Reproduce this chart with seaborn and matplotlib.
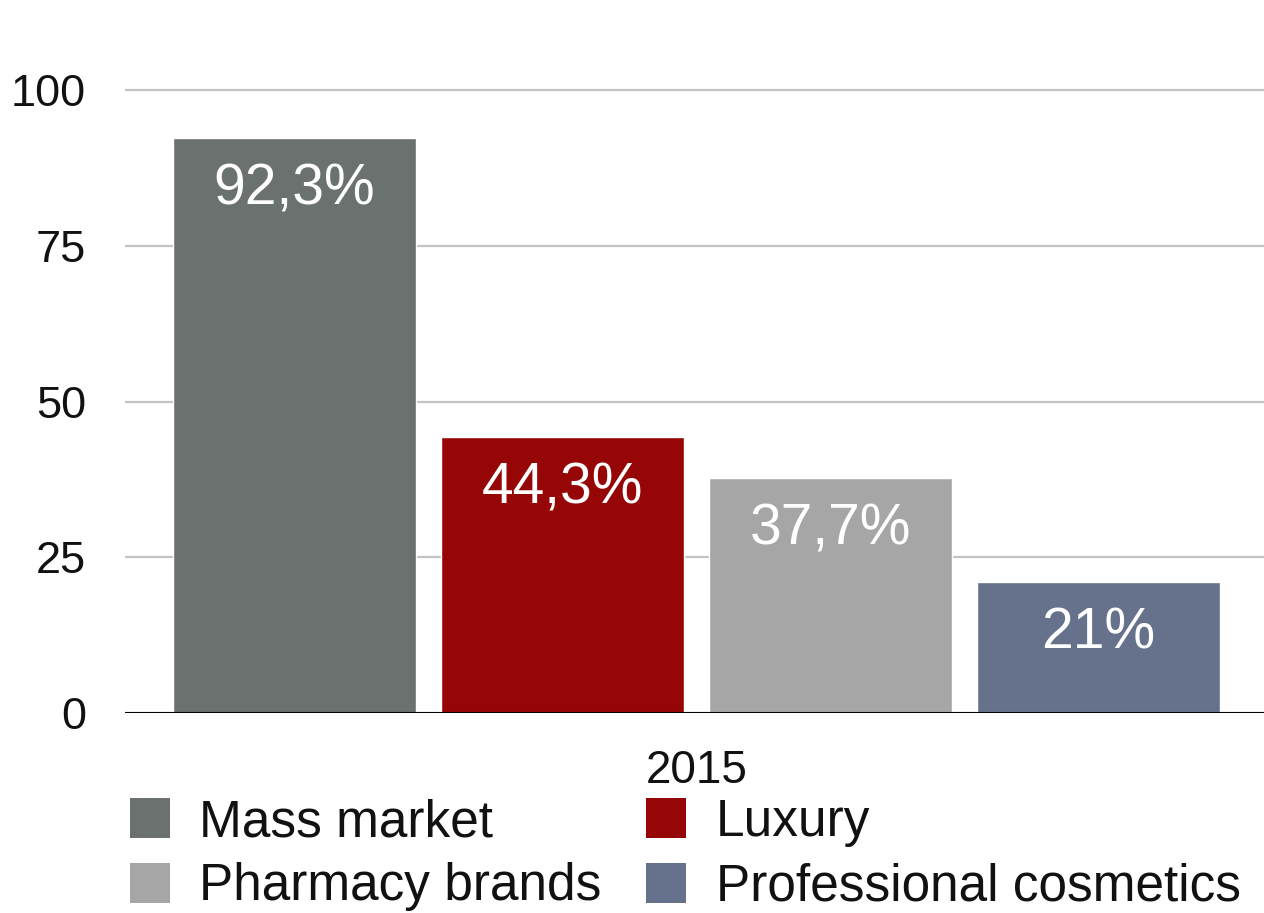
import pandas as pd
import matplotlib.pyplot as plt
import seaborn as sns
from matplotlib.patches import Patch


YEARS = ["2015", "2015", "2015", "2015"]
SEGMENTS = ["Mass market", "Luxury", "Pharmacy brands", "Professional cosmetics"]
SHARES = [92.3, 44.3, 37.7, 21.0]
SHARE_LABELS = ["92,3%", "44,3%", "37,7%", "21%"]
Y_TICKS = [0, 25, 50, 75, 100]

SEGMENT_PALETTE = {
    "Mass market": "#6b716f",
    "Luxury": "#970606",
    "Pharmacy brands": "#a6a6a6",
    "Professional cosmetics": "#66728b",
}

W, H = 1264, 913


if __name__ == "__main__":
    df = pd.DataFrame({"year": YEARS, "segment": SEGMENTS, "share": SHARES})

    sns.set_style("white")
    plt.rcParams["font.family"] = ["Liberation Sans", "DejaVu Sans"]
    plt.rcParams["text.color"] = "#111111"
    plt.rcParams["xtick.color"] = "#111111"
    plt.rcParams["ytick.color"] = "#111111"

    fig = plt.figure(figsize=(W / 100, H / 100), dpi=100)
    # y=0 at 713px, y=100 at 90px -> 6.23 px per unit, top at 101
    ax = fig.add_axes([125 / W, 1 - 713 / H, (W - 125) / W, (713 - 83.8) / H])

    sns.barplot(
        data=df,
        x="year",
        y="share",
        hue="segment",
        hue_order=SEGMENTS,
        palette=SEGMENT_PALETTE,
        width=0.8,
        gap=0.09,
        saturation=1,
        legend=False,
        ax=ax,
    )

    ax.set_xlim(-0.4265, 0.4235)
    ax.set_ylim(0, 101)
    ax.set_yticks(Y_TICKS)
    ax.set_xlabel("")
    ax.set_ylabel("")
    for spine in ax.spines.values():
        spine.set_visible(False)

    ax.yaxis.grid(True, color="#c4c4c4", linewidth=1.6)
    ax.set_axisbelow(True)
    ax.axhline(0, color="black", linewidth=2.2, zorder=3)

    ax.tick_params(axis="y", length=0, pad=28, labelsize=32.5)
    ax.tick_params(axis="x", length=0, pad=26, labelsize=33)

    for container, label in zip(ax.containers, SHARE_LABELS):
        bar = container.patches[0]
        ax.annotate(
            label,
            xy=(bar.get_x() + bar.get_width() / 2, bar.get_height()),
            xytext=(0, -37),
            textcoords="offset points",
            ha="center",
            va="center",
            color="white",
            fontsize=41,
        )

    # legend fills column-wise, so order for rows: Mass/Luxury, Pharmacy/Professional
    legend_order = ["Mass market", "Pharmacy brands", "Luxury", "Professional cosmetics"]
    handles = [Patch(facecolor=SEGMENT_PALETTE[s], edgecolor="none") for s in legend_order]
    fig.legend(
        handles,
        legend_order,
        ncol=2,
        loc="upper left",
        bbox_to_anchor=(130 / W, 1 - 798 / H),
        frameon=False,
        fontsize=37,
        borderpad=0,
        borderaxespad=0,
        handlelength=0.77,
        handleheight=0.82,
        handletextpad=0.58,
        labelspacing=0.3,
        columnspacing=0.87,
    )

    plt.savefig("out.png", dpi=100)
    plt.close()
